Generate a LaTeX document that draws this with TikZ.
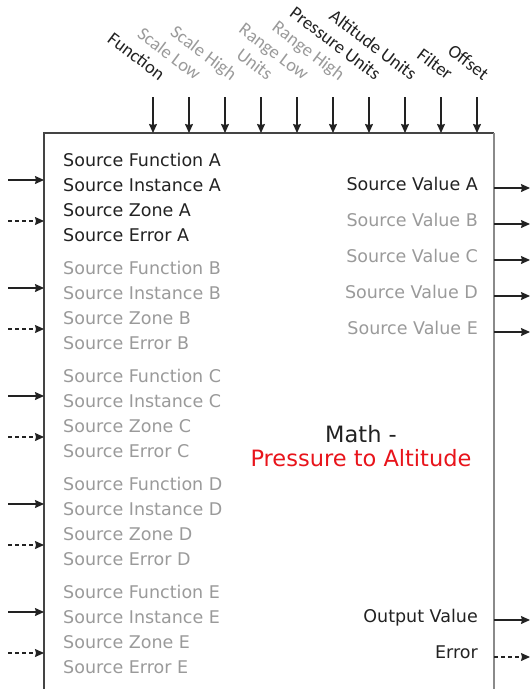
\documentclass[tikz,border=0pt]{standalone}
\usepackage{fontspec}
\setmainfont{DejaVu Sans}
\newfontfamily\lblfont{Carlito}
\usetikzlibrary{arrows.meta,positioning}
\definecolor{txtdark}{HTML}{222222}
\definecolor{txtgray}{HTML}{9A9A9A}
\definecolor{mathred}{HTML}{E8141B}
\definecolor{boxline}{HTML}{444444}
\definecolor{boxgray}{HTML}{8A8A8A}
\tikzset{
  sig/.style={-{Stealth[length=9pt,width=8pt,inset=1pt]}, line width=1.1pt, draw=txtdark},
  errsig/.style={sig, dash pattern=on 4pt off 3pt},
  txt/.style={font=\fontsize{17.5}{20}\selectfont, inner sep=0pt},
  toplbl/.style={font=\lblfont\fontsize{18.5}{20}\selectfont, rotate=-37, anchor=base east, inner sep=0pt},
}

\begin{document}
\begin{tikzpicture}[x=1pt,y=-1pt]
\useasboundingbox (0,0) rectangle (530,689);
% block outline, open at the bottom
\coordinate (bl) at (44,689); \coordinate (tl) at (44,133);
\coordinate (tr) at (494,133); \coordinate (br) at (494,689);
\draw[line width=1.2pt, boxline] (bl) -- (tl) -- (tr);
\draw[line width=1.2pt, boxgray] (tr) -- (br);

% top inputs
\foreach \lbl/\col [count=\i] in {Function/txtdark, Scale Low/txtgray, Scale High/txtgray,
    Units/txtgray, Range Low/txtgray, Range High/txtgray, Pressure Units/txtdark,
    Altitude Units/txtdark, Filter/txtdark, Offset/txtdark}{
  \coordinate (top\i) at ({153+36*(\i-1)},97);
  \coordinate (in\i) at ({153+36*(\i-1)},133);
  \draw[sig] (top\i) -- (in\i);
  \node[toplbl, text=\col] (lbl\i) at ({159+36*(\i-1)},81) {\lbl};
}

% source inputs A..E
\foreach \g/\col [count=\k from 0] in {A/txtdark, B/txtgray, C/txtgray, D/txtgray, E/txtgray}{
  \node[txt, anchor=base west, text=\col] (fn\g)   at (63,{166+108*\k}) {Source Function \g};
  \node[txt, anchor=base west, text=\col] (inst\g) at (63,{191+108*\k}) {Source Instance \g};
  \node[txt, anchor=base west, text=\col] (zone\g) at (63,{216+108*\k}) {Source Zone \g};
  \node[txt, anchor=base west, text=\col] (err\g)  at (63,{241+108*\k}) {Source Error \g};
  \coordinate (src\g) at (8,{180+108*\k});  \coordinate (pin\g) at (44,{180+108*\k});
  \coordinate (srce\g) at (8,{221+108*\k}); \coordinate (pine\g) at (44,{221+108*\k});
  \draw[sig] (src\g) -- (pin\g);
  \draw[errsig] (srce\g) -- (pine\g);
}

% source values out
\foreach \g/\col [count=\k from 0] in {A/txtdark, B/txtgray, C/txtgray, D/txtgray, E/txtgray}{
  \node[txt, anchor=base east, text=\col] (val\g) at (478,{190+36*\k}) {Source Value \g};
  \coordinate (vout\g) at (494,{188+36*\k}); \coordinate (vend\g) at (530,{188+36*\k});
  \draw[sig] (vout\g) -- (vend\g);
}

% results
\node[txt, anchor=base east, text=txtdark] (outval) at (478,622) {Output Value};
\node[txt, anchor=base east, text=txtdark] (outerr) at (478,658) {Error};
\coordinate (ov1) at (494,620); \coordinate (ov2) at (530,620);
\coordinate (oe1) at (494,657); \coordinate (oe2) at (530,657);
\draw[sig] (ov1) -- (ov2);
\draw[errsig] (oe1) -- (oe2);

% block title
\node[font=\fontsize{22.5}{24}\selectfont, text=txtdark, inner sep=0pt] (mathttl) at (361,434) {Math -};
\node[font=\fontsize{22.5}{24}\selectfont, text=mathred, inner sep=0pt, below=6pt of mathttl.south, anchor=north] (ptattl) {Pressure to Altitude};
\end{tikzpicture}
\end{document}
